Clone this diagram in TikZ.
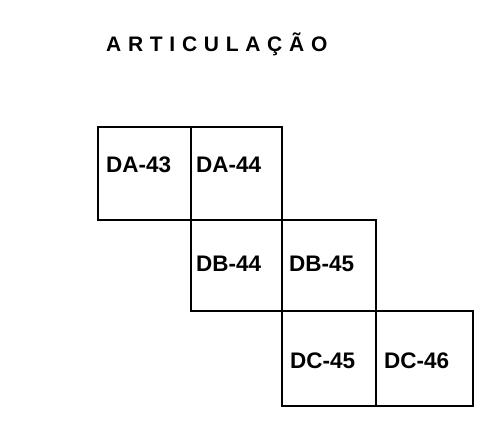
\documentclass[tikz,border=0pt]{standalone}
\usepackage{fontspec}
\newfontfamily\lblfont{Liberation Sans Bold}
\newfontfamily\titlefont[LetterSpace=32]{Liberation Sans Bold}
\begin{document}
\begin{tikzpicture}[x=1pt,y=-1pt,
  cell/.style={draw, line width=2.8pt, rectangle, inner sep=0pt, outer sep=0pt},
  lbl/.style={anchor=west, inner sep=0pt, font=\lblfont\fontsize{22.5}{23}\selectfont},
  ttl/.style={anchor=west, inner sep=0pt, font=\titlefont\fontsize{21}{21}\selectfont}]
\useasboundingbox (0,0) rectangle (496,430);
\node[ttl] (title) at (106,44.5) {ARTICULAÇÃO};
% cells
\node[cell, minimum width=93pt, minimum height=93pt] (da43) at (144.5,173.5) {};
\node[cell, minimum width=91pt, minimum height=93pt] (da44) at (236.5,173.5) {};
\node[cell, minimum width=91pt, minimum height=91pt] (db44) at (236.5,265.5) {};
\node[cell, minimum width=94pt, minimum height=91pt] (db45) at (329,265.5) {};
\node[cell, minimum width=94pt, minimum height=95pt] (dc45) at (329,358.5) {};
\node[cell, minimum width=97pt, minimum height=95pt] (dc46) at (424.5,358.5) {};
% labels
\node[lbl] (tda43) at (106,165) {DA-43};
\node[lbl] (tda44) at (196,165) {DA-44};
\node[lbl] (tdb44) at (196,264) {DB-44};
\node[lbl] (tdb45) at (289,264) {DB-45};
\node[lbl] (tdc45) at (290,360.5) {DC-45};
\node[lbl] (tdc46) at (384,360.5) {DC-46};
\end{tikzpicture}
\end{document}
